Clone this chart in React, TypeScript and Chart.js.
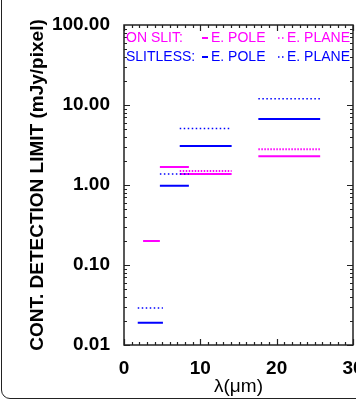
import React, { useEffect, useRef } from "react";
import { Chart, registerables } from "chart.js";
Chart.register(...registerables);

// ---- data ----
const xTickValues = [0, 10, 20, 30];
const yTickValues = [0.01, 0.1, 1, 10, 100];

const onSlitPoleStart = [2.5, 4.7, 7.3, 17.6];
const onSlitPoleEnd = [4.7, 8.5, 14.1, 25.7];
const onSlitPoleValue = [0.2, 1.68, 1.37, 2.29];

const onSlitPlaneStart = [7.3, 17.6];
const onSlitPlaneEnd = [14.1, 25.7];
const onSlitPlaneValue = [1.5, 2.8];

const slitlessPoleStart = [1.8, 4.7, 7.3, 17.6];
const slitlessPoleEnd = [5.1, 8.5, 14.1, 25.7];
const slitlessPoleValue = [0.019, 0.98, 3.08, 6.7];

const slitlessPlaneStart = [1.8, 4.7, 7.3, 17.6];
const slitlessPlaneEnd = [5.1, 8.5, 14.1, 25.7];
const slitlessPlaneValue = [0.029, 1.37, 5.1, 12.0];

const MAGENTA = "#ff00ff";
const BLUE = "#0000ff";
const FONT = "'Liberation Sans', Arial, Helvetica, sans-serif";

function segments(starts: number[], ends: number[], values: number[]) {
  const pts: { x: number; y: number | null }[] = [];
  starts.forEach((s, i) => {
    pts.push({ x: s, y: values[i] });
    pts.push({ x: ends[i], y: values[i] });
    pts.push({ x: ends[i], y: null });
  });
  return pts;
}

const decorPlugin = {
  id: "decor",
  afterDatasetsDraw(chart: any) {
    const { ctx, chartArea, scales } = chart;
    const { left, right, top, bottom } = chartArea;
    const xs = scales.x;
    const ys = scales.y;
    ctx.save();
    ctx.strokeStyle = "#222";
    ctx.lineWidth = 1.2;
    // ticks x
    for (let v = 0; v <= 30; v += 1) {
      const px = Math.round(xs.getPixelForValue(v)) + 0.5;
      const len = v % 10 === 0 ? 6 : 3;
      ctx.beginPath();
      ctx.moveTo(px, bottom);
      ctx.lineTo(px, bottom - len);
      ctx.moveTo(px, top);
      ctx.lineTo(px, top + len);
      ctx.stroke();
    }
    // ticks y
    for (let d = -2; d < 2; d++) {
      for (let m = 1; m <= 9; m++) {
        const v = m * Math.pow(10, d);
        const py = Math.round(ys.getPixelForValue(v)) + 0.5;
        const len = m === 1 ? 6 : 3;
        ctx.beginPath();
        ctx.moveTo(left, py);
        ctx.lineTo(left + len, py);
        ctx.moveTo(right, py);
        ctx.lineTo(right - len, py);
        ctx.stroke();
      }
    }
    // border
    ctx.lineWidth = 1.5;
    ctx.strokeRect(left, top, right - left, bottom - top);

    // legend
    ctx.font = `14px ${FONT}`;
    ctx.textBaseline = "middle";
    ctx.textAlign = "left";
    const rows = [
      { label: "ON SLIT:", color: MAGENTA, y: top + 13 },
      { label: "SLITLESS:", color: BLUE, y: top + 32 },
    ];
    rows.forEach((r) => {
      ctx.fillStyle = r.color;
      ctx.strokeStyle = r.color;
      ctx.fillText(r.label, left + 2, r.y);
      ctx.lineWidth = 2;
      ctx.setLineDash([]);
      ctx.beginPath();
      ctx.moveTo(left + 78, r.y);
      ctx.lineTo(left + 84, r.y);
      ctx.stroke();
      ctx.fillText("E. POLE", left + 87, r.y);
      ctx.fillRect(left + 154, r.y - 0.75, 1.5, 1.5);
      ctx.fillRect(left + 158, r.y - 0.75, 1.5, 1.5);
      ctx.fillText("E. PLANE", left + 163, r.y);
    });
    ctx.restore();
  },
};

export default function App() {
  const ref = useRef<HTMLCanvasElement>(null);
  useEffect(() => {
    if (!ref.current) return;
    const chart = new Chart(ref.current, {
      type: "line",
      data: {
        datasets: [
          {
            label: "SLITLESS E. PLANE",
            data: segments(slitlessPlaneStart, slitlessPlaneEnd, slitlessPlaneValue),
            borderColor: BLUE,
            borderWidth: 1.5,
            borderDash: [1.5, 2.5],
            pointRadius: 0,
            spanGaps: false,
          },
          {
            label: "SLITLESS E. POLE",
            data: segments(slitlessPoleStart, slitlessPoleEnd, slitlessPoleValue),
            borderColor: BLUE,
            borderWidth: 2,
            pointRadius: 0,
            spanGaps: false,
          },
          {
            label: "ON SLIT E. POLE",
            data: segments(onSlitPoleStart, onSlitPoleEnd, onSlitPoleValue),
            borderColor: MAGENTA,
            borderWidth: 2,
            pointRadius: 0,
            spanGaps: false,
          },
          {
            label: "ON SLIT E. PLANE",
            data: segments(onSlitPlaneStart, onSlitPlaneEnd, onSlitPlaneValue),
            borderColor: MAGENTA,
            borderWidth: 2,
            borderDash: [1.5, 1.5],
            pointRadius: 0,
            spanGaps: false,
          },
        ],
      },
      options: {
        animation: false,
        responsive: false,
        devicePixelRatio: 1,
        layout: { padding: { left: 0, right: 3, top: 25, bottom: 0 }, autoPadding: false } as any,
        plugins: { legend: { display: false }, tooltip: { enabled: false } },
        scales: {
          x: {
            type: "linear",
            min: 0,
            max: 30,
            afterBuildTicks: (s: any) => {
              s.ticks = xTickValues.map((v) => ({ value: v }));
            },
            afterFit: (s: any) => {
              s.height = 55;
              s.paddingLeft = 0;
              s.paddingRight = 0;
            },
            ticks: {
              color: "#000",
              font: { family: FONT, size: 19, weight: "bold" },
              padding: 4,
              maxRotation: 0,
              autoSkip: false,
            },
            grid: { display: false },
            border: { display: false },
            title: {
              display: true,
              text: "λ(μm)",
              color: "#000",
              font: { family: FONT, size: 19 },
              padding: { top: 0, bottom: 2 },
            },
          },
          y: {
            type: "logarithmic",
            min: 0.01,
            max: 100,
            afterBuildTicks: (s: any) => {
              s.ticks = yTickValues.map((v) => ({ value: v }));
            },
            afterFit: (s: any) => {
              s.width = 124;
              s.paddingTop = 0;
              s.paddingBottom = 0;
            },
            ticks: {
              color: "#000",
              font: { family: FONT, size: 19, weight: "bold" },
              padding: 6,
              autoSkip: false,
              callback: (v: any) => Number(v).toFixed(2),
            },
            grid: { display: false },
            border: { display: false },
            title: {
              display: true,
              text: "CONT. DETECTION LIMIT (mJy/pixel)",
              color: "#000",
              font: { family: FONT, size: 19, weight: "bold" },
              padding: { top: 26.5, bottom: 0 },
            },
          },
        },
      },
      plugins: [decorPlugin],
    });
    return () => chart.destroy();
  }, []);

  return (
    <div
      style={{
        position: "fixed",
        left: 0,
        top: 0,
        width: 356,
        height: 400,
        overflow: "hidden",
        background: "#fff",
      }}
    >
      <div
        style={{
          position: "absolute",
          left: 1,
          top: -20,
          width: 420,
          height: 419,
          border: "1.5px solid #222",
          borderRadius: 9,
          boxSizing: "border-box",
        }}
      />
      <canvas
        ref={ref}
        width={356}
        height={400}
        style={{ position: "absolute", left: 0, top: 0, width: 356, height: 400 }}
      />
    </div>
  );
}
